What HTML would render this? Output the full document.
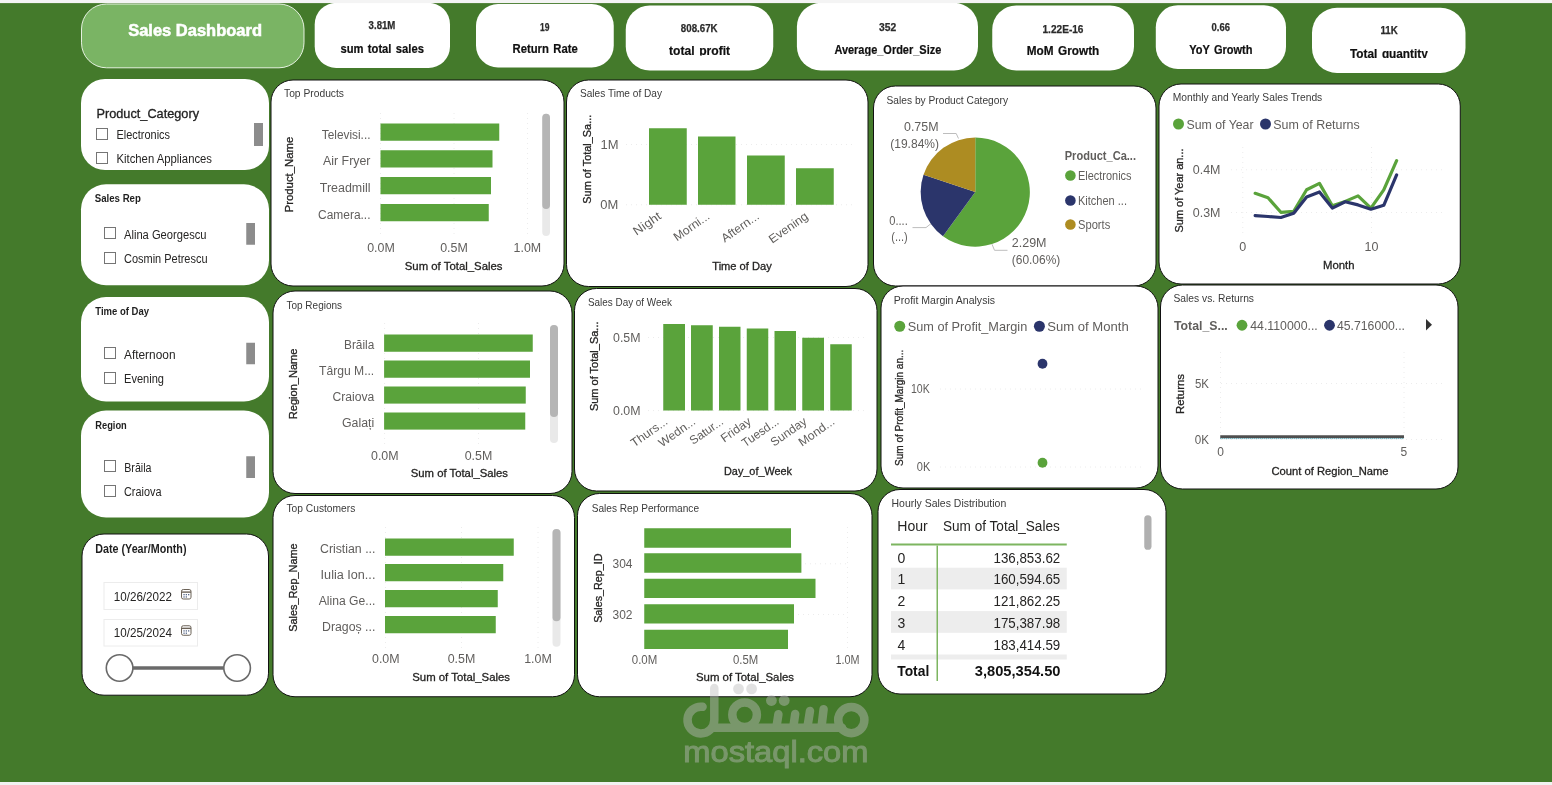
<!DOCTYPE html>
<html lang="en"><head><meta charset="utf-8"><title>Sales Dashboard</title>
<style>
html,body{margin:0;padding:0;background:#f3f3f3;}
body{width:1552px;height:785px;overflow:hidden;font-family:"Liberation Sans",sans-serif;}
svg{display:block;font-family:"Liberation Sans",sans-serif;will-change:transform;}
</style></head><body>
<svg width="1552" height="785" viewBox="0 0 1552 785">
<rect x="0" y="0" width="1552" height="785" fill="#447A2B"/>
<rect x="81.5" y="4" width="222.5" height="63.8" fill="#7AB464" rx="25" stroke="#F4FAF1" stroke-width="0.9"/>
<text x="128.2" y="36" font-size="16.9" fill="#ffffff" font-weight="bold" textLength="133.8" lengthAdjust="spacingAndGlyphs" stroke="#fff" stroke-width="0.55">Sales Dashboard</text>
<defs>
<clipPath id="c3"><rect x="620" y="0" width="160" height="55.5"/></clipPath>
<clipPath id="c4"><rect x="790" y="0" width="200" height="55.8"/></clipPath>
<clipPath id="c7"><rect x="1300" y="0" width="180" height="58.1"/></clipPath>
</defs>
<rect x="314.7" y="2.8" width="135.3" height="65.2" fill="#fff" rx="21.5"/>
<text x="382" y="29.1" font-size="11" fill="#2b2b2b" text-anchor="middle" font-weight="bold" textLength="26.8" lengthAdjust="spacingAndGlyphs" stroke="#2b2b2b" stroke-width="0.25">3.81M</text>
<text x="340.4" y="52.8" font-size="12" fill="#101010" font-weight="bold" textLength="83.5" lengthAdjust="spacingAndGlyphs" word-spacing="1.3" stroke="#101010" stroke-width="0.2">sum total sales</text>
<rect x="476" y="4" width="137.75" height="63.5" fill="#fff" rx="22"/>
<text x="544.75" y="30.5" font-size="11" fill="#2b2b2b" text-anchor="middle" font-weight="bold" textLength="9.5" lengthAdjust="spacingAndGlyphs" stroke="#2b2b2b" stroke-width="0.25">19</text>
<text x="512.5" y="53" font-size="12" fill="#101010" font-weight="bold" textLength="65.2" lengthAdjust="spacingAndGlyphs" word-spacing="1.3" stroke="#101010" stroke-width="0.2">Return Rate</text>
<rect x="625.75" y="5.5" width="147.5" height="65" fill="#fff" rx="24"/>
<text x="699.25" y="32.1" font-size="11" fill="#2b2b2b" text-anchor="middle" font-weight="bold" textLength="36.8" lengthAdjust="spacingAndGlyphs" stroke="#2b2b2b" stroke-width="0.25">808.67K</text>
<text x="669.1" y="54.7" font-size="12" fill="#101010" font-weight="bold" textLength="61" lengthAdjust="spacingAndGlyphs" clip-path="url(#c3)" word-spacing="1.3" stroke="#101010" stroke-width="0.2">total profit</text>
<rect x="796.9" y="2.8" width="181.1" height="67.7" fill="#fff" rx="24"/>
<text x="887.6" y="31.2" font-size="11" fill="#2b2b2b" text-anchor="middle" font-weight="bold" textLength="17.2" lengthAdjust="spacingAndGlyphs" stroke="#2b2b2b" stroke-width="0.25">352</text>
<text x="834.4" y="53.8" font-size="12" fill="#101010" font-weight="bold" textLength="106.9" lengthAdjust="spacingAndGlyphs" clip-path="url(#c4)" word-spacing="1.3" stroke="#101010" stroke-width="0.2">Average_Order_Size</text>
<rect x="992.25" y="5.5" width="141.75" height="65" fill="#fff" rx="24"/>
<text x="1063" y="32.5" font-size="11" fill="#2b2b2b" text-anchor="middle" font-weight="bold" textLength="41" lengthAdjust="spacingAndGlyphs" stroke="#2b2b2b" stroke-width="0.25">1.22E-16</text>
<text x="1026.75" y="55" font-size="12" fill="#101010" font-weight="bold" textLength="72.5" lengthAdjust="spacingAndGlyphs" word-spacing="1.3" stroke="#101010" stroke-width="0.2">MoM Growth</text>
<rect x="1155.8" y="5.2" width="130.2" height="63.7" fill="#fff" rx="22"/>
<text x="1220.7" y="31" font-size="11" fill="#2b2b2b" text-anchor="middle" font-weight="bold" textLength="18.4" lengthAdjust="spacingAndGlyphs" stroke="#2b2b2b" stroke-width="0.25">0.66</text>
<text x="1189.3" y="53.5" font-size="12" fill="#101010" font-weight="bold" textLength="63.2" lengthAdjust="spacingAndGlyphs" word-spacing="1.3" stroke="#101010" stroke-width="0.2">YoY Growth</text>
<rect x="1312" y="7.75" width="153.5" height="65.25" fill="#fff" rx="25"/>
<text x="1389.15" y="34.1" font-size="11" fill="#2b2b2b" text-anchor="middle" font-weight="bold" textLength="17.3" lengthAdjust="spacingAndGlyphs" stroke="#2b2b2b" stroke-width="0.25">11K</text>
<text x="1350" y="57.8" font-size="12" fill="#101010" font-weight="bold" textLength="77.8" lengthAdjust="spacingAndGlyphs" clip-path="url(#c7)" word-spacing="1.3" stroke="#101010" stroke-width="0.2">Total quantity</text>
<rect x="81" y="79" width="188" height="91" fill="#fff" rx="24"/>
<text x="96.5" y="118" font-size="12.5" fill="#222" textLength="102.5" lengthAdjust="spacingAndGlyphs" stroke="#222" stroke-width="0.3">Product_Category</text>
<rect x="96.5" y="128.5" width="11" height="11" fill="#fff" stroke="#757575" stroke-width="1"/>
<text x="116.5" y="139" font-size="12" fill="#252423" textLength="53.5" lengthAdjust="spacingAndGlyphs">Electronics</text>
<rect x="96.5" y="152.5" width="11" height="11" fill="#fff" stroke="#757575" stroke-width="1"/>
<text x="116.5" y="163" font-size="12" fill="#252423" textLength="95.5" lengthAdjust="spacingAndGlyphs">Kitchen Appliances</text>
<rect x="254" y="123" width="9" height="23" fill="#8C8C8C"/>
<rect x="81" y="184.3" width="188" height="100.9" fill="#fff" rx="25"/>
<text x="94.7" y="202.3" font-size="11" fill="#1f1f1f" font-weight="bold" textLength="46.2" lengthAdjust="spacingAndGlyphs">Sales Rep</text>
<rect x="104.5" y="227.5" width="11" height="11" fill="#fff" stroke="#757575" stroke-width="1"/>
<text x="124" y="239" font-size="12" fill="#252423" textLength="82.5" lengthAdjust="spacingAndGlyphs">Alina Georgescu</text>
<rect x="104.5" y="252.5" width="11" height="11" fill="#fff" stroke="#757575" stroke-width="1"/>
<text x="124" y="263" font-size="12" fill="#252423" textLength="83.5" lengthAdjust="spacingAndGlyphs">Cosmin Petrescu</text>
<rect x="246.25" y="223" width="8.75" height="21.75" fill="#8C8C8C"/>
<rect x="81" y="297" width="188" height="104.5" fill="#fff" rx="25"/>
<text x="95.25" y="315" font-size="11" fill="#1f1f1f" font-weight="bold" textLength="53.75" lengthAdjust="spacingAndGlyphs">Time of Day</text>
<rect x="104.5" y="347.5" width="11" height="11" fill="#fff" stroke="#757575" stroke-width="1"/>
<text x="124" y="359" font-size="12" fill="#252423" textLength="51.5" lengthAdjust="spacingAndGlyphs">Afternoon</text>
<rect x="104.5" y="372.5" width="11" height="11" fill="#fff" stroke="#757575" stroke-width="1"/>
<text x="124" y="383" font-size="12" fill="#252423" textLength="40" lengthAdjust="spacingAndGlyphs">Evening</text>
<rect x="246.25" y="342.75" width="8.75" height="21.5" fill="#8C8C8C"/>
<rect x="81" y="410.5" width="188" height="107" fill="#fff" rx="25"/>
<text x="95.25" y="429" font-size="11" fill="#1f1f1f" font-weight="bold" textLength="31.5" lengthAdjust="spacingAndGlyphs">Region</text>
<rect x="104.5" y="460.5" width="11" height="11" fill="#fff" stroke="#757575" stroke-width="1"/>
<text x="124.25" y="472" font-size="12" fill="#252423" textLength="27.25" lengthAdjust="spacingAndGlyphs">Brăila</text>
<rect x="104.5" y="485.5" width="11" height="11" fill="#fff" stroke="#757575" stroke-width="1"/>
<text x="124" y="496.4" font-size="12" fill="#252423" textLength="37.5" lengthAdjust="spacingAndGlyphs">Craiova</text>
<rect x="246.25" y="456.25" width="8.75" height="21.75" fill="#8C8C8C"/>
<rect x="82" y="534" width="186.5" height="161.2" fill="#fff" rx="22" stroke="#111" stroke-width="1"/>
<text x="95.25" y="553.25" font-size="12" fill="#1f1f1f" font-weight="bold" textLength="91.25" lengthAdjust="spacingAndGlyphs">Date (Year/Month)</text>
<rect x="104" y="582.5" width="93.5" height="27" fill="#fff" stroke="#ECECEC" stroke-width="1"/>
<text x="113.75" y="601" font-size="13" fill="#252423" textLength="58.25" lengthAdjust="spacingAndGlyphs">10/26/2022</text>
<g stroke="#6b6257" fill="none" stroke-width="1">
<rect x="181.5" y="589.5" width="9.5" height="9.5" rx="1.8"/>
<line x1="181.5" y1="592.1" x2="191" y2="592.1" stroke-width="1.4"/>
</g>
<rect x="183.4" y="594" width="1.3" height="1.3" fill="#5a6b8c"/>
<rect x="185.7" y="594" width="1.3" height="1.3" fill="#5a6b8c"/>
<rect x="188" y="594" width="1.3" height="1.3" fill="#5a6b8c"/>
<rect x="183.4" y="596.3" width="1.3" height="1.3" fill="#5a6b8c"/>
<rect x="185.7" y="596.3" width="1.3" height="1.3" fill="#5a6b8c"/>
<rect x="104" y="619.5" width="93.5" height="26.5" fill="#fff" stroke="#ECECEC" stroke-width="1"/>
<text x="113.75" y="637.25" font-size="13" fill="#252423" textLength="58.25" lengthAdjust="spacingAndGlyphs">10/25/2024</text>
<g stroke="#6b6257" fill="none" stroke-width="1">
<rect x="181.5" y="625.75" width="9.5" height="9.5" rx="1.8"/>
<line x1="181.5" y1="628.35" x2="191" y2="628.35" stroke-width="1.4"/>
</g>
<rect x="183.4" y="630.25" width="1.3" height="1.3" fill="#5a6b8c"/>
<rect x="185.7" y="630.25" width="1.3" height="1.3" fill="#5a6b8c"/>
<rect x="188" y="630.25" width="1.3" height="1.3" fill="#5a6b8c"/>
<rect x="183.4" y="632.55" width="1.3" height="1.3" fill="#5a6b8c"/>
<rect x="185.7" y="632.55" width="1.3" height="1.3" fill="#5a6b8c"/>
<line x1="133" y1="668" x2="224" y2="668" stroke="#6a6a6a" stroke-width="3.6"/>
<circle cx="119.6" cy="668" r="13.3" fill="#fff" stroke="#6a6a6a" stroke-width="1.6"/>
<circle cx="237.1" cy="668" r="13.3" fill="#fff" stroke="#6a6a6a" stroke-width="1.6"/>
<rect x="271" y="80" width="293" height="206" fill="#fff" rx="22" stroke="#111" stroke-width="1"/>
<text x="284" y="96.9" font-size="10.4" fill="#3a3a3a" textLength="60" lengthAdjust="spacingAndGlyphs">Top Products</text>
<text x="0" y="0" font-size="11.3" fill="#252423" text-anchor="middle" textLength="75.8" lengthAdjust="spacingAndGlyphs" transform="translate(292.6 174.5) rotate(-90)" stroke="#252423" stroke-width="0.3">Product_Name</text>
<line x1="380.5" y1="113" x2="380.5" y2="236" stroke="#ececec" stroke-width="1" stroke-dasharray="1 4"/>
<line x1="454" y1="113" x2="454" y2="236" stroke="#ececec" stroke-width="1" stroke-dasharray="1 4"/>
<line x1="527.5" y1="113" x2="527.5" y2="236" stroke="#ececec" stroke-width="1" stroke-dasharray="1 4"/>
<text x="321.75" y="138.8" font-size="12" fill="#605E5C" textLength="48.75" lengthAdjust="spacingAndGlyphs">Televisi...</text>
<rect x="380.5" y="123.5" width="118.75" height="17.25" fill="#5AA33B"/>
<text x="323" y="164.7" font-size="12" fill="#605E5C" textLength="47.5" lengthAdjust="spacingAndGlyphs">Air Fryer</text>
<rect x="380.5" y="150.25" width="112" height="17.25" fill="#5AA33B"/>
<text x="319.75" y="192.2" font-size="12" fill="#605E5C" textLength="50.75" lengthAdjust="spacingAndGlyphs">Treadmill</text>
<rect x="380.5" y="177" width="110.5" height="17.25" fill="#5AA33B"/>
<text x="318" y="219" font-size="12" fill="#605E5C" textLength="52.5" lengthAdjust="spacingAndGlyphs">Camera...</text>
<rect x="380.5" y="204" width="108.25" height="17.25" fill="#5AA33B"/>
<text x="381" y="252.1" font-size="12" fill="#605E5C" text-anchor="middle" textLength="27.6" lengthAdjust="spacingAndGlyphs">0.0M</text>
<text x="454" y="252.1" font-size="12" fill="#605E5C" text-anchor="middle" textLength="27.6" lengthAdjust="spacingAndGlyphs">0.5M</text>
<text x="527.4" y="252.1" font-size="12" fill="#605E5C" text-anchor="middle" textLength="27.6" lengthAdjust="spacingAndGlyphs">1.0M</text>
<text x="404.75" y="270.25" font-size="11.3" fill="#252423" textLength="97.75" lengthAdjust="spacingAndGlyphs" stroke="#252423" stroke-width="0.3">Sum of Total_Sales</text>
<rect x="542.25" y="113.75" width="7.75" height="122.25" fill="#E9E9E9" rx="3.88"/>
<rect x="542.25" y="113.75" width="7.75" height="95.25" fill="#B5B5B5" rx="3.88"/>
<rect x="566.5" y="80" width="301.5" height="206.5" fill="#fff" rx="22" stroke="#111" stroke-width="1"/>
<text x="580" y="96.9" font-size="10.4" fill="#3a3a3a" textLength="82" lengthAdjust="spacingAndGlyphs">Sales Time of Day</text>
<text x="0" y="0" font-size="11.3" fill="#252423" text-anchor="middle" textLength="89" lengthAdjust="spacingAndGlyphs" transform="translate(590.8 159.2) rotate(-90)" stroke="#252423" stroke-width="0.3">Sum of Total_Sa...</text>
<line x1="626" y1="144.5" x2="856" y2="144.5" stroke="#ececec" stroke-width="1" stroke-dasharray="1 4"/>
<line x1="626" y1="204.75" x2="856" y2="204.75" stroke="#ececec" stroke-width="1" stroke-dasharray="1 4"/>
<text x="618.5" y="148.8" font-size="12" fill="#605E5C" text-anchor="end" textLength="18" lengthAdjust="spacingAndGlyphs">1M</text>
<text x="618.3" y="209.05" font-size="12" fill="#605E5C" text-anchor="end" textLength="18" lengthAdjust="spacingAndGlyphs">0M</text>
<rect x="649" y="128.25" width="37.75" height="76.5" fill="#5AA33B"/>
<rect x="698" y="136.5" width="37.5" height="68.25" fill="#5AA33B"/>
<rect x="747" y="155.5" width="37.75" height="49.25" fill="#5AA33B"/>
<rect x="796" y="168.25" width="37.75" height="36.5" fill="#5AA33B"/>
<text x="0" y="0" font-size="12" fill="#605E5C" text-anchor="end" textLength="31" lengthAdjust="spacingAndGlyphs" transform="translate(662 218) rotate(-35)">Night</text>
<text x="0" y="0" font-size="12" fill="#605E5C" text-anchor="end" textLength="41" lengthAdjust="spacingAndGlyphs" transform="translate(710.5 218) rotate(-35)">Morni...</text>
<text x="0" y="0" font-size="12" fill="#605E5C" text-anchor="end" textLength="43" lengthAdjust="spacingAndGlyphs" transform="translate(760 218) rotate(-35)">Aftern...</text>
<text x="0" y="0" font-size="12" fill="#605E5C" text-anchor="end" textLength="45" lengthAdjust="spacingAndGlyphs" transform="translate(809 218) rotate(-35)">Evening</text>
<text x="712.25" y="270.25" font-size="11.3" fill="#252423" textLength="59.5" lengthAdjust="spacingAndGlyphs" stroke="#252423" stroke-width="0.3">Time of Day</text>
<rect x="873.5" y="86" width="282.5" height="200" fill="#fff" rx="22" stroke="#111" stroke-width="1"/>
<text x="886.5" y="104.4" font-size="10.4" fill="#3a3a3a" textLength="121.5" lengthAdjust="spacingAndGlyphs">Sales by Product Category</text>
<path d="M975.25 192.1 L975.25 137.5 A54.6 54.6 0 1 1 942.99 236.15 Z" fill="#5AA33B"/>
<path d="M975.25 192.1 L942.99 236.15 A54.6 54.6 0 0 1 923.49 174.71 Z" fill="#2B356B"/>
<path d="M975.25 192.1 L923.49 174.71 A54.6 54.6 0 0 1 975.25 137.5 Z" fill="#AD8C22"/>
<text x="904" y="131.3" font-size="12.5" fill="#605E5C" textLength="34.5" lengthAdjust="spacingAndGlyphs">0.75M</text>
<text x="890.25" y="147.6" font-size="12.5" fill="#605E5C" textLength="48.75" lengthAdjust="spacingAndGlyphs">(19.84%)</text>
<text x="1011.75" y="247" font-size="12.5" fill="#605E5C" textLength="34.75" lengthAdjust="spacingAndGlyphs">2.29M</text>
<text x="1011.75" y="264.2" font-size="12.5" fill="#605E5C" textLength="48.5" lengthAdjust="spacingAndGlyphs">(60.06%)</text>
<text x="889.25" y="225.3" font-size="12.5" fill="#605E5C" textLength="18.5" lengthAdjust="spacingAndGlyphs">0....</text>
<text x="891.25" y="241.3" font-size="12.5" fill="#605E5C" textLength="16.5" lengthAdjust="spacingAndGlyphs">(...)</text>
<g fill="none" stroke="#bdbdbd" stroke-width="1">
<path d="M943 133.5 L956.2 133.5 L958.5 138.5"/>
<path d="M912.5 227.6 L926 227.6 L931 223.6"/>
<path d="M992 244.2 L994.5 250.3 L1007.5 250.3"/>
</g>
<text x="1064.75" y="160.3" font-size="13" fill="#605E5C" font-weight="bold" textLength="71.25" lengthAdjust="spacingAndGlyphs">Product_Ca...</text>
<circle cx="1070.4" cy="175.5" r="5.3" fill="#5AA33B"/>
<text x="1078" y="179.9" font-size="12.5" fill="#605E5C" textLength="53.5" lengthAdjust="spacingAndGlyphs">Electronics</text>
<circle cx="1070.4" cy="200.5" r="5.3" fill="#2B356B"/>
<text x="1078" y="204.9" font-size="12.5" fill="#605E5C" textLength="49" lengthAdjust="spacingAndGlyphs">Kitchen ...</text>
<circle cx="1070.4" cy="224.5" r="5.3" fill="#AD8C22"/>
<text x="1078" y="228.9" font-size="12.5" fill="#605E5C" textLength="32.25" lengthAdjust="spacingAndGlyphs">Sports</text>
<rect x="1159" y="84" width="301.25" height="200" fill="#fff" rx="22" stroke="#111" stroke-width="1"/>
<text x="1172.75" y="100.65" font-size="10.4" fill="#3a3a3a" textLength="149.5" lengthAdjust="spacingAndGlyphs">Monthly and Yearly Sales Trends</text>
<circle cx="1178.5" cy="124" r="5.5" fill="#5AA33B"/>
<text x="1186.5" y="128.7" font-size="13" fill="#605E5C" textLength="67" lengthAdjust="spacingAndGlyphs">Sum of Year</text>
<circle cx="1265.5" cy="124" r="5.5" fill="#2B356B"/>
<text x="1273.25" y="128.7" font-size="13" fill="#605E5C" textLength="86.5" lengthAdjust="spacingAndGlyphs">Sum of Returns</text>
<text x="0" y="0" font-size="11.3" fill="#252423" text-anchor="middle" textLength="84" lengthAdjust="spacingAndGlyphs" transform="translate(1183 190.5) rotate(-90)" stroke="#252423" stroke-width="0.3">Sum of Year an...</text>
<line x1="1231" y1="169.75" x2="1446" y2="169.75" stroke="#ececec" stroke-width="1" stroke-dasharray="1 4"/>
<line x1="1231" y1="212.5" x2="1446" y2="212.5" stroke="#ececec" stroke-width="1" stroke-dasharray="1 4"/>
<line x1="1242.75" y1="147" x2="1242.75" y2="236" stroke="#ececec" stroke-width="1" stroke-dasharray="1 4"/>
<line x1="1371.5" y1="147" x2="1371.5" y2="236" stroke="#ececec" stroke-width="1" stroke-dasharray="1 4"/>
<text x="1220.5" y="174.1" font-size="12.5" fill="#605E5C" text-anchor="end" textLength="27.75" lengthAdjust="spacingAndGlyphs">0.4M</text>
<text x="1220.5" y="216.8" font-size="12.5" fill="#605E5C" text-anchor="end" textLength="27.75" lengthAdjust="spacingAndGlyphs">0.3M</text>
<text x="1242.75" y="251.1" font-size="12.5" fill="#605E5C" text-anchor="middle">0</text>
<text x="1371.5" y="251.1" font-size="12.5" fill="#605E5C" text-anchor="middle">10</text>
<text x="1323" y="268.75" font-size="11.3" fill="#252423" textLength="31.5" lengthAdjust="spacingAndGlyphs" stroke="#252423" stroke-width="0.3">Month</text>
<polyline fill="none" stroke="#5AA33B" stroke-width="3.2" stroke-linejoin="round" stroke-linecap="round" points="1255.16,193.3 1268.02,197.8 1280.88,212.3 1293.74,211.4 1306.6,189.8 1319.46,183.4 1332.32,205.8 1345.18,201.4 1358.04,195.9 1370.9,208.1 1383.76,189.8 1396.62,160.7"/>
<polyline fill="none" stroke="#2B356B" stroke-width="3.2" stroke-linejoin="round" stroke-linecap="round" points="1255.16,215.6 1268.02,216.5 1280.88,217.5 1293.74,213.3 1306.6,196.9 1319.46,192 1332.32,208.1 1345.18,201.7 1358.04,204.9 1370.9,209.2 1383.76,205.3 1396.62,174.9"/>
<rect x="273" y="291" width="299" height="202.5" fill="#fff" rx="22" stroke="#111" stroke-width="1"/>
<text x="286.5" y="308.9" font-size="10.4" fill="#3a3a3a" textLength="55.5" lengthAdjust="spacingAndGlyphs">Top Regions</text>
<text x="0" y="0" font-size="11.3" fill="#252423" text-anchor="middle" textLength="70.7" lengthAdjust="spacingAndGlyphs" transform="translate(296.5 383.9) rotate(-90)" stroke="#252423" stroke-width="0.3">Region_Name</text>
<line x1="384.6" y1="323" x2="384.6" y2="444" stroke="#ececec" stroke-width="1" stroke-dasharray="1 4"/>
<line x1="478.5" y1="323" x2="478.5" y2="444" stroke="#ececec" stroke-width="1" stroke-dasharray="1 4"/>
<text x="344" y="349.2" font-size="12" fill="#605E5C" textLength="30.25" lengthAdjust="spacingAndGlyphs">Brăila</text>
<rect x="384.1" y="334.5" width="148.65" height="17.25" fill="#5AA33B"/>
<text x="319" y="375.2" font-size="12" fill="#605E5C" textLength="55.25" lengthAdjust="spacingAndGlyphs">Târgu M...</text>
<rect x="384.1" y="360.5" width="145.9" height="17.25" fill="#5AA33B"/>
<text x="332.4" y="401.3" font-size="12" fill="#605E5C" textLength="41.85" lengthAdjust="spacingAndGlyphs">Craiova</text>
<rect x="384.1" y="386.5" width="141.65" height="17.1" fill="#5AA33B"/>
<text x="342" y="427.3" font-size="12" fill="#605E5C" textLength="32.25" lengthAdjust="spacingAndGlyphs">Galați</text>
<rect x="384.1" y="412.5" width="141.15" height="17.1" fill="#5AA33B"/>
<text x="384.8" y="460.2" font-size="12" fill="#605E5C" text-anchor="middle" textLength="27.6" lengthAdjust="spacingAndGlyphs">0.0M</text>
<text x="478.5" y="460.2" font-size="12" fill="#605E5C" text-anchor="middle" textLength="27.6" lengthAdjust="spacingAndGlyphs">0.5M</text>
<text x="410.75" y="477.25" font-size="11.3" fill="#252423" textLength="97.25" lengthAdjust="spacingAndGlyphs" stroke="#252423" stroke-width="0.3">Sum of Total_Sales</text>
<rect x="550" y="325" width="8" height="118" fill="#E9E9E9" rx="4"/>
<rect x="550" y="325" width="8" height="92" fill="#B5B5B5" rx="4"/>
<rect x="574.5" y="288.5" width="302.5" height="202.5" fill="#fff" rx="22" stroke="#111" stroke-width="1"/>
<text x="588" y="306.15" font-size="10.4" fill="#3a3a3a" textLength="84" lengthAdjust="spacingAndGlyphs">Sales Day of Week</text>
<text x="0" y="0" font-size="11.3" fill="#252423" text-anchor="middle" textLength="89.6" lengthAdjust="spacingAndGlyphs" transform="translate(598 366.3) rotate(-90)" stroke="#252423" stroke-width="0.3">Sum of Total_Sa...</text>
<line x1="648" y1="337.5" x2="864" y2="337.5" stroke="#ececec" stroke-width="1" stroke-dasharray="1 4"/>
<line x1="648" y1="410.6" x2="864" y2="410.6" stroke="#ececec" stroke-width="1" stroke-dasharray="1 4"/>
<text x="640.5" y="341.8" font-size="12" fill="#605E5C" text-anchor="end" textLength="27.5" lengthAdjust="spacingAndGlyphs">0.5M</text>
<text x="640.5" y="415.05" font-size="12" fill="#605E5C" text-anchor="end" textLength="27.5" lengthAdjust="spacingAndGlyphs">0.0M</text>
<rect x="663.25" y="324" width="21.75" height="86.5" fill="#5AA33B"/>
<rect x="691" y="325.25" width="21.75" height="85.25" fill="#5AA33B"/>
<rect x="719" y="326.75" width="21.5" height="83.75" fill="#5AA33B"/>
<rect x="746.75" y="328.5" width="21.5" height="82" fill="#5AA33B"/>
<rect x="774.5" y="331" width="21.5" height="79.5" fill="#5AA33B"/>
<rect x="802.25" y="337.75" width="21.75" height="72.75" fill="#5AA33B"/>
<rect x="830.25" y="344.25" width="21.5" height="66.25" fill="#5AA33B"/>
<text x="0" y="0" font-size="12" fill="#605E5C" text-anchor="end" textLength="42" lengthAdjust="spacingAndGlyphs" transform="translate(668.62 423.3) rotate(-35)">Thurs...</text>
<text x="0" y="0" font-size="12" fill="#605E5C" text-anchor="end" textLength="42" lengthAdjust="spacingAndGlyphs" transform="translate(696.38 423.3) rotate(-35)">Wedn...</text>
<text x="0" y="0" font-size="12" fill="#605E5C" text-anchor="end" textLength="38" lengthAdjust="spacingAndGlyphs" transform="translate(724.25 423.3) rotate(-35)">Satur...</text>
<text x="0" y="0" font-size="12" fill="#605E5C" text-anchor="end" textLength="34" lengthAdjust="spacingAndGlyphs" transform="translate(752 423.3) rotate(-35)">Friday</text>
<text x="0" y="0" font-size="12" fill="#605E5C" text-anchor="end" textLength="42" lengthAdjust="spacingAndGlyphs" transform="translate(779.75 423.3) rotate(-35)">Tuesd...</text>
<text x="0" y="0" font-size="12" fill="#605E5C" text-anchor="end" textLength="41" lengthAdjust="spacingAndGlyphs" transform="translate(807.62 423.3) rotate(-35)">Sunday</text>
<text x="0" y="0" font-size="12" fill="#605E5C" text-anchor="end" textLength="41" lengthAdjust="spacingAndGlyphs" transform="translate(835.5 423.3) rotate(-35)">Mond...</text>
<text x="724" y="475.25" font-size="11.3" fill="#252423" textLength="68" lengthAdjust="spacingAndGlyphs" stroke="#252423" stroke-width="0.3">Day_of_Week</text>
<rect x="881" y="286" width="277" height="202" fill="#fff" rx="22" stroke="#111" stroke-width="1"/>
<text x="893.75" y="303.9" font-size="10.4" fill="#3a3a3a" textLength="101.25" lengthAdjust="spacingAndGlyphs">Profit Margin Analysis</text>
<circle cx="899.75" cy="326.25" r="5.5" fill="#5AA33B"/>
<text x="907.75" y="331" font-size="13" fill="#605E5C" textLength="119.5" lengthAdjust="spacingAndGlyphs">Sum of Profit_Margin</text>
<circle cx="1039.4" cy="326.25" r="5.5" fill="#2B356B"/>
<text x="1047.25" y="331" font-size="13" fill="#605E5C" textLength="81.5" lengthAdjust="spacingAndGlyphs">Sum of Month</text>
<text x="0" y="0" font-size="11.3" fill="#252423" text-anchor="middle" textLength="116.2" lengthAdjust="spacingAndGlyphs" transform="translate(902.6 407.8) rotate(-90)" stroke="#252423" stroke-width="0.3">Sum of Profit_Margin an...</text>
<line x1="940" y1="389" x2="1143" y2="389" stroke="#ececec" stroke-width="1" stroke-dasharray="1 4"/>
<line x1="940" y1="467" x2="1143" y2="467" stroke="#ececec" stroke-width="1" stroke-dasharray="1 4"/>
<text x="929.75" y="393" font-size="12" fill="#605E5C" text-anchor="end" textLength="18.75" lengthAdjust="spacingAndGlyphs">10K</text>
<text x="930.25" y="471" font-size="12" fill="#605E5C" text-anchor="end" textLength="13.5" lengthAdjust="spacingAndGlyphs">0K</text>
<circle cx="1042.5" cy="363.75" r="4.9" fill="#2B356B"/>
<circle cx="1042.5" cy="462.75" r="4.9" fill="#5AA33B"/>
<rect x="1160.5" y="285" width="297.5" height="204" fill="#fff" rx="22" stroke="#111" stroke-width="1"/>
<text x="1173.5" y="301.9" font-size="10.4" fill="#3a3a3a" textLength="80.5" lengthAdjust="spacingAndGlyphs">Sales vs. Returns</text>
<text x="1174" y="329.8" font-size="13" fill="#605E5C" font-weight="bold" textLength="53.75" lengthAdjust="spacingAndGlyphs">Total_S...</text>
<circle cx="1242" cy="325.25" r="5.4" fill="#5AA33B"/>
<text x="1250.25" y="329.8" font-size="12.5" fill="#605E5C" textLength="67.5" lengthAdjust="spacingAndGlyphs">44.110000...</text>
<circle cx="1329.5" cy="325.25" r="5.4" fill="#2B356B"/>
<text x="1337" y="329.8" font-size="12.5" fill="#605E5C" textLength="68" lengthAdjust="spacingAndGlyphs">45.716000...</text>
<path d="M1426 319 L1432 324.75 L1426 330.5 Z" fill="#333"/>
<text x="0" y="0" font-size="11.3" fill="#252423" text-anchor="middle" textLength="40" lengthAdjust="spacingAndGlyphs" transform="translate(1183.5 394) rotate(-90)" stroke="#252423" stroke-width="0.3">Returns</text>
<line x1="1221" y1="383.5" x2="1446" y2="383.5" stroke="#ececec" stroke-width="1" stroke-dasharray="1 4"/>
<line x1="1221" y1="439.5" x2="1446" y2="439.5" stroke="#ececec" stroke-width="1" stroke-dasharray="1 4"/>
<line x1="1220.5" y1="352" x2="1220.5" y2="440" stroke="#ececec" stroke-width="1" stroke-dasharray="1 4"/>
<line x1="1404" y1="352" x2="1404" y2="440" stroke="#ececec" stroke-width="1" stroke-dasharray="1 4"/>
<text x="1209" y="387.8" font-size="12" fill="#605E5C" text-anchor="end" textLength="14" lengthAdjust="spacingAndGlyphs">5K</text>
<text x="1209" y="443.8" font-size="12" fill="#605E5C" text-anchor="end" textLength="14.25" lengthAdjust="spacingAndGlyphs">0K</text>
<rect x="1220.25" y="435.25" width="183.75" height="2.95" fill="#4f4f4f"/>
<line x1="1220.25" y1="438.6" x2="1404" y2="438.6" stroke="#3f9bb0" stroke-width="1" stroke-dasharray="1 1"/>
<text x="1220.5" y="456.3" font-size="12" fill="#605E5C" text-anchor="middle">0</text>
<text x="1403.75" y="456.3" font-size="12" fill="#605E5C" text-anchor="middle">5</text>
<text x="1271.5" y="474.5" font-size="11.3" fill="#252423" textLength="117" lengthAdjust="spacingAndGlyphs" stroke="#252423" stroke-width="0.3">Count of Region_Name</text>
<rect x="273" y="495.5" width="301.5" height="201.25" fill="#fff" rx="22" stroke="#111" stroke-width="1"/>
<text x="286.5" y="512.15" font-size="10.4" fill="#3a3a3a" textLength="68.75" lengthAdjust="spacingAndGlyphs">Top Customers</text>
<text x="0" y="0" font-size="11.3" fill="#252423" text-anchor="middle" textLength="88.5" lengthAdjust="spacingAndGlyphs" transform="translate(296.5 587.6) rotate(-90)" stroke="#252423" stroke-width="0.3">Sales_Rep_Name</text>
<line x1="385.5" y1="527" x2="385.5" y2="648" stroke="#ececec" stroke-width="1" stroke-dasharray="1 4"/>
<line x1="461.5" y1="527" x2="461.5" y2="648" stroke="#ececec" stroke-width="1" stroke-dasharray="1 4"/>
<line x1="538" y1="527" x2="538" y2="648" stroke="#ececec" stroke-width="1" stroke-dasharray="1 4"/>
<text x="320" y="552.8" font-size="12" fill="#605E5C" textLength="55.4" lengthAdjust="spacingAndGlyphs">Cristian ...</text>
<rect x="385" y="538.5" width="128.75" height="17.25" fill="#5AA33B"/>
<text x="320.6" y="578.6" font-size="12" fill="#605E5C" textLength="54.8" lengthAdjust="spacingAndGlyphs">Iulia Ion...</text>
<rect x="385" y="564" width="118.25" height="17.25" fill="#5AA33B"/>
<text x="318.7" y="605" font-size="12" fill="#605E5C" textLength="56.7" lengthAdjust="spacingAndGlyphs">Alina Ge...</text>
<rect x="385" y="590" width="112.75" height="17.25" fill="#5AA33B"/>
<text x="322" y="631" font-size="12" fill="#605E5C" textLength="53.4" lengthAdjust="spacingAndGlyphs">Dragoș ...</text>
<rect x="385" y="616" width="110.75" height="17.25" fill="#5AA33B"/>
<text x="385.8" y="663.05" font-size="12" fill="#605E5C" text-anchor="middle" textLength="27.6" lengthAdjust="spacingAndGlyphs">0.0M</text>
<text x="461.5" y="663.05" font-size="12" fill="#605E5C" text-anchor="middle" textLength="27.6" lengthAdjust="spacingAndGlyphs">0.5M</text>
<text x="538" y="663.05" font-size="12" fill="#605E5C" text-anchor="middle" textLength="27.6" lengthAdjust="spacingAndGlyphs">1.0M</text>
<text x="412.25" y="681.25" font-size="11.3" fill="#252423" textLength="97.75" lengthAdjust="spacingAndGlyphs" stroke="#252423" stroke-width="0.3">Sum of Total_Sales</text>
<rect x="552.5" y="529" width="8" height="117.75" fill="#E9E9E9" rx="4"/>
<rect x="552.5" y="529" width="8" height="92.25" fill="#B5B5B5" rx="4"/>
<rect x="577.5" y="493.5" width="294.5" height="203.25" fill="#fff" rx="22" stroke="#111" stroke-width="1"/>
<text x="591.75" y="512.15" font-size="10.4" fill="#3a3a3a" textLength="107.25" lengthAdjust="spacingAndGlyphs">Sales Rep Performance</text>
<text x="0" y="0" font-size="11.3" fill="#252423" text-anchor="middle" textLength="69.3" lengthAdjust="spacingAndGlyphs" transform="translate(601.5 588.2) rotate(-90)" stroke="#252423" stroke-width="0.3">Sales_Rep_ID</text>
<line x1="847.5" y1="527" x2="847.5" y2="650" stroke="#ececec" stroke-width="1" stroke-dasharray="1 4"/>
<rect x="644.25" y="528.25" width="146.75" height="19.5" fill="#5AA33B"/>
<rect x="644.25" y="553.25" width="157.15" height="19.5" fill="#5AA33B"/>
<rect x="644.25" y="578.75" width="171.25" height="19.25" fill="#5AA33B"/>
<rect x="644.25" y="604.25" width="149.75" height="19.25" fill="#5AA33B"/>
<rect x="644.25" y="629.75" width="143.75" height="19.25" fill="#5AA33B"/>
<line x1="805" y1="563.75" x2="848" y2="563.75" stroke="#ececec" stroke-width="1" stroke-dasharray="1 4"/>
<line x1="798" y1="614.5" x2="848" y2="614.5" stroke="#ececec" stroke-width="1" stroke-dasharray="1 4"/>
<text x="632.5" y="568.05" font-size="12" fill="#605E5C" text-anchor="end" textLength="20" lengthAdjust="spacingAndGlyphs">304</text>
<text x="632.5" y="618.8" font-size="12" fill="#605E5C" text-anchor="end" textLength="20" lengthAdjust="spacingAndGlyphs">302</text>
<text x="644.5" y="664.05" font-size="12" fill="#605E5C" text-anchor="middle" textLength="25.5" lengthAdjust="spacingAndGlyphs">0.0M</text>
<text x="745.6" y="664.05" font-size="12" fill="#605E5C" text-anchor="middle" textLength="25.25" lengthAdjust="spacingAndGlyphs">0.5M</text>
<text x="847.5" y="664.05" font-size="12" fill="#605E5C" text-anchor="middle" textLength="24" lengthAdjust="spacingAndGlyphs">1.0M</text>
<text x="696" y="681.25" font-size="11.3" fill="#252423" textLength="98" lengthAdjust="spacingAndGlyphs" stroke="#252423" stroke-width="0.3">Sum of Total_Sales</text>
<rect x="878" y="489.5" width="288" height="204.5" fill="#fff" rx="22" stroke="#111" stroke-width="1"/>
<text x="891.5" y="506.9" font-size="10.4" fill="#3a3a3a" textLength="114.75" lengthAdjust="spacingAndGlyphs">Hourly Sales Distribution</text>
<text x="897.25" y="531" font-size="14" fill="#252423" textLength="30.5" lengthAdjust="spacingAndGlyphs">Hour</text>
<text x="943" y="531" font-size="14" fill="#252423" textLength="116.75" lengthAdjust="spacingAndGlyphs">Sum of Total_Sales</text>
<rect x="891" y="567.7" width="175.75" height="21.7" fill="#EDEDED"/>
<rect x="891" y="611.1" width="175.75" height="21.7" fill="#EDEDED"/>
<rect x="891" y="654.5" width="175.75" height="5" fill="#EDEDED"/>
<rect x="891" y="543.5" width="175.75" height="2" fill="#7DB560"/>
<rect x="936.5" y="545.5" width="1.5" height="135.5" fill="#7DB560"/>
<text x="897.4" y="562.75" font-size="14" fill="#252423">0</text>
<text x="1060.25" y="562.75" font-size="14" fill="#252423" text-anchor="end" textLength="66.75" lengthAdjust="spacingAndGlyphs">136,853.62</text>
<text x="897.4" y="584.45" font-size="14" fill="#252423">1</text>
<text x="1060.25" y="584.45" font-size="14" fill="#252423" text-anchor="end" textLength="66.75" lengthAdjust="spacingAndGlyphs">160,594.65</text>
<text x="897.4" y="606.15" font-size="14" fill="#252423">2</text>
<text x="1060.25" y="606.15" font-size="14" fill="#252423" text-anchor="end" textLength="66.75" lengthAdjust="spacingAndGlyphs">121,862.25</text>
<text x="897.4" y="627.85" font-size="14" fill="#252423">3</text>
<text x="1060.25" y="627.85" font-size="14" fill="#252423" text-anchor="end" textLength="66.75" lengthAdjust="spacingAndGlyphs">175,387.98</text>
<text x="897.4" y="649.55" font-size="14" fill="#252423">4</text>
<text x="1060.25" y="649.55" font-size="14" fill="#252423" text-anchor="end" textLength="66.75" lengthAdjust="spacingAndGlyphs">183,414.59</text>
<text x="897.25" y="676.2" font-size="14" fill="#111" font-weight="bold" textLength="32" lengthAdjust="spacingAndGlyphs">Total</text>
<text x="1060.5" y="676.2" font-size="14" fill="#111" text-anchor="end" font-weight="bold" textLength="85.75" lengthAdjust="spacingAndGlyphs">3,805,354.50</text>
<rect x="1144.25" y="515.25" width="7.25" height="34.5" fill="#B0B0B0" rx="3.6"/>
<g opacity="0.44" fill="#BDBDBD" stroke="#BDBDBD">
<g fill="none" stroke-width="8.5" stroke-linecap="round" stroke-linejoin="round">
<circle cx="851.3" cy="720.1" r="13.1"/>
<path d="M714 727.8 L842 727.8"/>
<path d="M776.3 727.8 L778.4 714.3"/>
<path d="M793.2 727.8 L795.2 714"/>
<path d="M807.3 727.8 L810 710.9"/>
<path d="M821.4 727.8 L823.6 709.2"/>
<circle cx="744.6" cy="714.7" r="12.3"/>
<path d="M714.3 688 L714.3 720.1 A13.4 13.4 0 1 1 702.6 706.8"/>
</g>
<g stroke="none">
<circle cx="738.5" cy="688.9" r="5.4"/>
<circle cx="751.6" cy="688.9" r="5.4"/>
<circle cx="771.4" cy="700.5" r="5.4"/>
<circle cx="784.2" cy="700.5" r="5.4"/>
<text x="683.3" y="762.1" font-size="29.6" stroke-width="1" stroke="#BDBDBD" textLength="185.2" lengthAdjust="spacingAndGlyphs">mostaql.com</text>
</g>
</g>
<rect x="0" y="0" width="1552" height="3.1" fill="#F4F4F4"/>
<rect x="0" y="782" width="1552" height="3" fill="#F1F3F1"/>
</svg>
</body></html>
